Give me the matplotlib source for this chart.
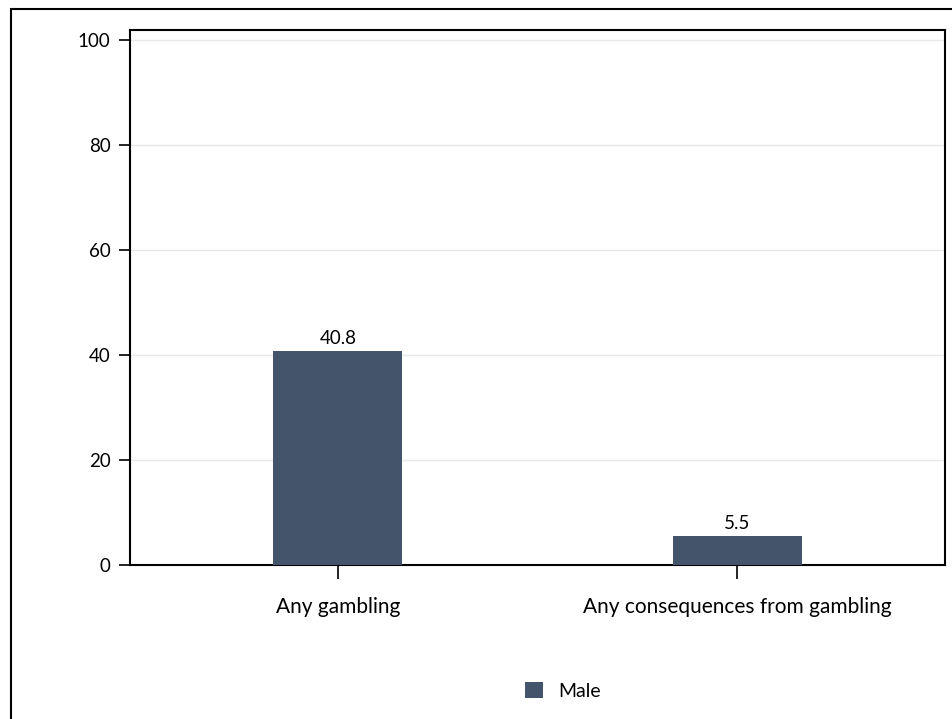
import matplotlib.pyplot as plt
from matplotlib.patches import Rectangle

categories = ["Any gambling", "Any consequences from gambling"]
male = [40.8, 5.5]
yticks = [0, 20, 40, 60, 80, 100]

plt.rcParams['font.family'] = ['Lato', 'DejaVu Sans']

fig = plt.figure(figsize=(9.53, 7.19), dpi=100)
# outer frame (cropped on the right/bottom)
fig.patches.append(Rectangle((11/953, -0.1), 1.2, 0.1 + (719-9)/719, transform=fig.transFigure,
                             fill=False, edgecolor='black', linewidth=1.5))

ax = fig.add_axes([130/953, (719-565)/719, 815/953, 535/719])
x = range(len(categories))
bars = ax.bar(x, male, width=0.323, color='#44546A', label='Male', zorder=3)
for b, v in zip(bars, male):
    ax.annotate(f"{v}", (b.get_x() + b.get_width()/2, v), xytext=(0, 3),
                textcoords='offset points', ha='center', va='bottom', fontsize=13.5)

ax.set_xlim(-0.521, 1.521)
ax.set_ylim(0, 101.9)
ax.set_yticks(yticks)
ax.set_xticks(list(x))
ax.set_xticklabels(categories, fontsize=15)
ax.tick_params(axis='y', labelsize=13.5, length=8, width=1.2, pad=6)
ax.tick_params(axis='x', length=10, width=1.2, pad=13)
ax.yaxis.grid(True, color='#e8e8e8', linewidth=1, zorder=0)
for s in ax.spines.values():
    s.set_linewidth(1.5)

fig.legend(loc='center', bbox_to_anchor=(563/953, (719-691)/719), frameon=False,
           fontsize=14, handlelength=0.9, handleheight=0.9, handletextpad=0.8)

fig.savefig("out.png", dpi=100)
